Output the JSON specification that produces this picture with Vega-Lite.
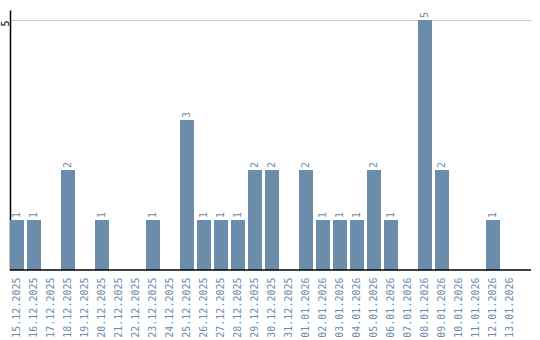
{
  "$schema": "https://vega.github.io/schema/vega-lite/v6.json",
  "autosize": "none",
  "padding": {"left": 10, "top": 10, "right": 9, "bottom": 70},
  "width": 521,
  "height": 260,
  "background": "white",
  "config": {"view": {"stroke": null}, "font": "DejaVu Sans Mono"},
  "data": {"values": [
    {"date": "15.12.2025", "count": 1},
    {"date": "16.12.2025", "count": 1},
    {"date": "17.12.2025", "count": 0},
    {"date": "18.12.2025", "count": 2},
    {"date": "19.12.2025", "count": 0},
    {"date": "20.12.2025", "count": 1},
    {"date": "21.12.2025", "count": 0},
    {"date": "22.12.2025", "count": 0},
    {"date": "23.12.2025", "count": 1},
    {"date": "24.12.2025", "count": 0},
    {"date": "25.12.2025", "count": 3},
    {"date": "26.12.2025", "count": 1},
    {"date": "27.12.2025", "count": 1},
    {"date": "28.12.2025", "count": 1},
    {"date": "29.12.2025", "count": 2},
    {"date": "30.12.2025", "count": 2},
    {"date": "31.12.2025", "count": 0},
    {"date": "01.01.2026", "count": 2},
    {"date": "02.01.2026", "count": 1},
    {"date": "03.01.2026", "count": 1},
    {"date": "04.01.2026", "count": 1},
    {"date": "05.01.2026", "count": 2},
    {"date": "06.01.2026", "count": 1},
    {"date": "07.01.2026", "count": 0},
    {"date": "08.01.2026", "count": 5},
    {"date": "09.01.2026", "count": 2},
    {"date": "10.01.2026", "count": 0},
    {"date": "11.01.2026", "count": 0},
    {"date": "12.01.2026", "count": 1},
    {"date": "13.01.2026", "count": 0}
  ]},
  "encoding": {
    "x": {
      "field": "date", "type": "ordinal", "sort": null,
      "scale": {"paddingInner": 0.1765, "paddingOuter": 0.412, "align": 0},
      "axis": {
        "title": null, "labelAngle": 270, "labelAlign": "right", "labelBaseline": "middle",
        "ticks": false, "labelPadding": 7, "domain": false,
        "labelFont": "DejaVu Sans Mono", "labelFontSize": 10, "labelColor": "#6b8caa"
      }
    },
    "y": {
      "field": "count", "type": "quantitative",
      "scale": {"domain": [0, 5.2], "nice": false},
      "axis": {
        "title": null, "values": [5], "ticks": false, "labelAngle": 270,
        "labelAlign": "right", "labelBaseline": "middle", "labelPadding": 5,
        "labelFont": "DejaVu Sans Mono", "labelFontSize": 10, "labelColor": "#000000",
        "domainColor": "#000000", "domainWidth": 1.5, "gridColor": "#cccccc", "gridWidth": 1
      }
    }
  },
  "layer": [
    {"mark": {"type": "bar", "color": "#6b8caa"}},
    {
      "transform": [{"filter": "datum.count > 0"}],
      "mark": {"type": "text", "angle": 270, "align": "left", "baseline": "middle", "dx": 2,
               "font": "DejaVu Sans Mono", "fontSize": 10, "color": "#6b8caa"},
      "encoding": {"text": {"field": "count", "type": "quantitative"}}
    },
    {
      "data": {"values": [{"z": 0}]},
      "mark": {"type": "rule", "color": "#000000", "strokeWidth": 1.5},
      "encoding": {"y": {"field": "z", "type": "quantitative"}, "x": null}
    }
  ]
}
